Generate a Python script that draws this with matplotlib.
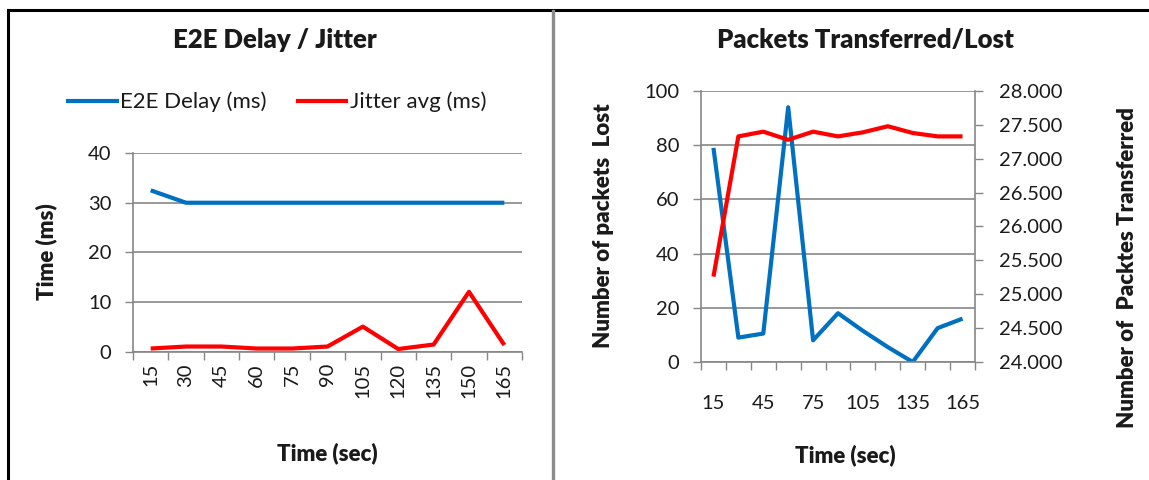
import matplotlib
matplotlib.use("Agg")
import matplotlib.pyplot as plt
from matplotlib.lines import Line2D
from matplotlib.ticker import FixedLocator, FuncFormatter, NullFormatter

plt.rcParams['font.family'] = ['Lato', 'DejaVu Sans']

# ---- data ----
time_sec = [15, 30, 45, 60, 75, 90, 105, 120, 135, 150, 165]
e2e_delay_ms = [32.5, 30, 30, 30, 30, 30, 30, 30, 30, 30, 30]
jitter_avg_ms = [0.7, 1.1, 1.1, 0.7, 0.7, 1.1, 5.1, 0.6, 1.5, 12.1, 1.4]
packets_lost = [79, 9, 10.5, 94, 8, 18, 11.5, 5.5, 0, 12.5, 16]
packets_transferred = [25260, 27330, 27400, 27280, 27400, 27330, 27390, 27480, 27380, 27330, 27330]

BLUE = "#0070C0"
RED = "#FF0000"
GRID = "#868686"
TXT = "#1a1a1a"
TICK_FS = 14.5
LEGEND_FS = 16
LABEL_FS = 16
TITLE_FS = 18.5
BOLD = "heavy"
LW = 3.0

W, H = 1149, 480
fig = plt.figure(figsize=(W / 100, H / 100), dpi=100)
fig.patch.set_facecolor("white")


def px_axes(x0, y0, x1, y1):
    """Axes box given in pixel coordinates measured from the top-left corner."""
    return fig.add_axes([x0 / W, 1 - y1 / H, (x1 - x0) / W, (y1 - y0) / H])


def style_category_axis(ax, labels, label_every, rotation, pad):
    n = len(labels)
    ax.set_xlim(-0.5, n - 0.5)
    ax.xaxis.set_major_locator(FixedLocator([i for i in range(n) if i % label_every == 0]))
    ax.set_xticklabels([str(labels[i]) for i in range(n) if i % label_every == 0],
                       rotation=rotation)
    ax.xaxis.set_minor_locator(FixedLocator([i - 0.5 for i in range(n + 1)]))
    ax.xaxis.set_minor_formatter(NullFormatter())
    ax.tick_params(axis="x", which="major", length=0, pad=pad, labelsize=TICK_FS,
                   labelcolor=TXT)
    ax.tick_params(axis="x", which="minor", length=5.5, width=1, color=GRID, direction="out")
    for s in ("top", "right"):
        ax.spines[s].set_visible(False)
    for s in ("left", "bottom"):
        ax.spines[s].set_color(GRID)
        ax.spines[s].set_linewidth(1.2)
    ax.grid(axis="y", color=GRID, lw=1.2)
    ax.set_axisbelow(True)
    ax.tick_params(axis="y", length=5.5, width=1, color=GRID, direction="out",
                   pad=10, labelsize=TICK_FS, labelcolor=TXT)


# ---- left chart: E2E delay / jitter ----
axL = px_axes(133, 153, 522, 352)
xs = range(len(time_sec))
axL.plot(xs, e2e_delay_ms, color=BLUE, lw=LW, solid_capstyle="butt")
axL.plot(xs, jitter_avg_ms, color=RED, lw=LW, solid_capstyle="butt")
axL.set_ylim(0, 40)
axL.set_yticks([0, 10, 20, 30, 40])
style_category_axis(axL, time_sec, 1, 90, 8)

fig.text(275 / W, 1 - 40 / H, "E2E Delay / Jitter", ha="center", va="center",
         fontsize=TITLE_FS, fontweight=BOLD, color=TXT)
fig.text(46 / W, 1 - 252 / H, "Time (ms)", ha="center", va="center", rotation=90,
         fontsize=LABEL_FS, fontweight=BOLD, color=TXT)
fig.text(327 / W, 1 - 453 / H, "Time (sec)", ha="center", va="center",
         fontsize=LABEL_FS, fontweight=BOLD, color=TXT)

handles = [Line2D([], [], color=BLUE, lw=LW), Line2D([], [], color=RED, lw=LW)]
fig.legend(handles, ["E2E Delay (ms)", "Jitter avg (ms)"], loc="center",
           bbox_to_anchor=(277 / W, 1 - 102 / H), ncol=2, frameon=False,
           fontsize=LEGEND_FS, handlelength=2.2, handletextpad=0.15, columnspacing=1.4,
           labelcolor=TXT)

# ---- right chart: packets transferred / lost ----
axR = px_axes(701, 91, 975, 362)
axR.plot(xs, packets_lost, color=BLUE, lw=LW, solid_capstyle="butt")
axR.set_ylim(0, 100)
axR.set_yticks([0, 20, 40, 60, 80, 100])
style_category_axis(axR, time_sec, 2, 0, 24)

axR2 = axR.twinx()
axR2.plot(xs, packets_transferred, color=RED, lw=LW, solid_capstyle="butt")
axR2.set_ylim(24000, 28000)
axR2.set_yticks(list(range(24000, 28001, 500)))
axR2.yaxis.set_major_formatter(FuncFormatter(lambda v, _: f"{int(v):,}".replace(",", ".")))
for s in ("top", "left", "bottom"):
    axR2.spines[s].set_visible(False)
axR2.spines["right"].set_color(GRID)
axR2.spines["right"].set_linewidth(1.2)
axR2.tick_params(axis="y", length=5.5, width=1, color=GRID, direction="out",
                 pad=12, labelsize=TICK_FS, labelcolor=TXT)

fig.text(865 / W, 1 - 40 / H, "Packets Transferred/Lost", ha="center", va="center",
         fontsize=TITLE_FS, fontweight=BOLD, color=TXT)
fig.text(604 / W, 1 - 226 / H, "Number of packets  Lost", ha="center", va="center",
         rotation=90, fontsize=LABEL_FS, fontweight=BOLD, color=TXT)
fig.text(1128 / W, 1 - 268 / H, "Number of  Packtes Transferred", ha="center", va="center",
         rotation=90, fontsize=LABEL_FS, fontweight=BOLD, color=TXT)
fig.text(845 / W, 1 - 455 / H, "Time (sec)", ha="center", va="center",
         fontsize=LABEL_FS, fontweight=BOLD, color=TXT)

# ---- surrounding table frame ----
fig.add_artist(Line2D([8 / W, 1], [1 - 10 / H, 1 - 10 / H], color="black", lw=2.2,
                      transform=fig.transFigure))
fig.add_artist(Line2D([8 / W, 8 / W], [0, 1 - 10 / H], color="black", lw=2.2,
                      transform=fig.transFigure))
fig.add_artist(Line2D([553 / W, 553 / W], [0, 1 - 11 / H], color="#8c8c8c", lw=2.4,
                      transform=fig.transFigure))

fig.savefig("out.png", dpi=100, facecolor="white")
